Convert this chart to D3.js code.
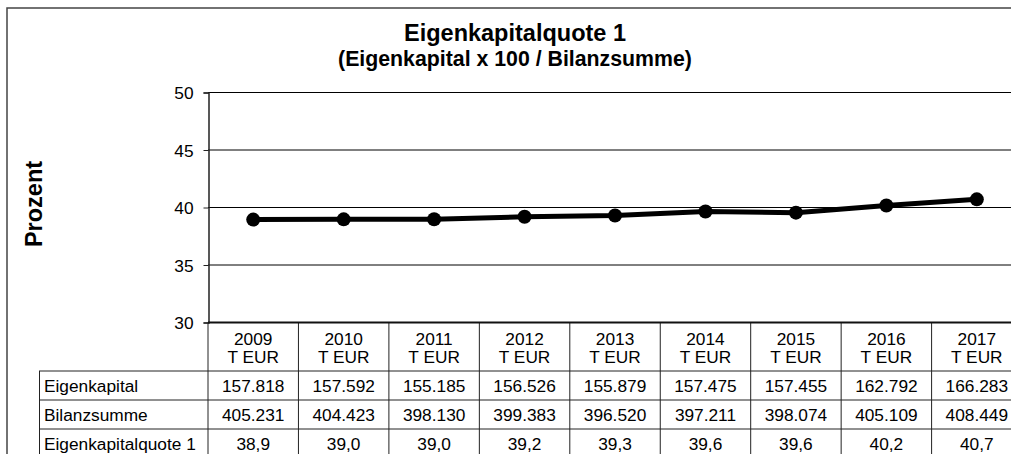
<!DOCTYPE html>
<html>
<head>
<meta charset="utf-8">
<script src="https://cdn.jsdelivr.net/npm/d3@7"></script>
<style>
  body { margin: 0; background: #fff; }
  text { font-family: "Liberation Sans", Arial, sans-serif; fill: #000; }
</style>
</head>
<body>
<div class="canva"></div>
<script>
// data
const years = ["2009", "2010", "2011", "2012", "2013", "2014", "2015", "2016", "2017"];
const eigenkapital = ["157.818", "157.592", "155.185", "156.526", "155.879", "157.475", "157.455", "162.792", "166.283"];
const bilanzsumme = ["405.231", "404.423", "398.130", "399.383", "396.520", "397.211", "398.074", "405.109", "408.449"];
const quoteLabels = ["38,9", "39,0", "39,0", "39,2", "39,3", "39,6", "39,6", "40,2", "40,7"];
const quote = [38.95, 38.97, 38.98, 39.19, 39.31, 39.65, 39.55, 40.18, 40.71];
const yTicks = [30, 35, 40, 45, 50];
const rowNames = ["Eigenkapital", "Bilanzsumme", "Eigenkapitalquote 1"];

const W = 1011, H = 454;

const svg = d3.select(".canva").append("svg")
    .attr("width", W)
    .attr("height", H);

// outer frame (runs off the right/bottom like the original)
svg.append("rect")
    .attr("x", 7).attr("y", 8)
    .attr("width", W + 20).attr("height", H + 20)
    .attr("fill", "none")
    .attr("stroke", "#444")
    .attr("stroke-width", 1.5);

const left = 208, colW = 90.45;

const x = d3.scaleBand()
    .domain(years)
    .range([left, left + years.length * colW])
    .padding(0);

const y = d3.scaleLinear()
    .domain([30, 50])
    .range([322.5, 92.5]);

// titles
svg.append("text")
    .attr("x", 515).attr("y", 41)
    .attr("text-anchor", "middle")
    .attr("font-size", 23.5)
    .attr("font-weight", "bold")
    .text("Eigenkapitalquote 1");

svg.append("text")
    .attr("x", 515).attr("y", 66)
    .attr("text-anchor", "middle")
    .attr("font-size", 21.3)
    .attr("font-weight", "bold")
    .text("(Eigenkapital x 100 / Bilanzsumme)");

svg.append("text")
    .attr("transform", "translate(42,204) rotate(-90)")
    .attr("text-anchor", "middle")
    .attr("font-size", 23.5)
    .attr("font-weight", "bold")
    .text("Prozent");

// gridlines
svg.append("g")
    .selectAll("line")
    .data(yTicks.filter(t => t > 30))
    .enter().append("line")
    .attr("x1", left).attr("x2", W + 20)
    .attr("y1", d => y(d)).attr("y2", d => y(d))
    .attr("stroke", "#000")
    .attr("stroke-width", 1);

// y axis
const yAxis = d3.axisLeft(y)
    .tickValues(yTicks)
    .tickSize(5)
    .tickPadding(10);

const gy = svg.append("g")
    .attr("transform", `translate(${left + 0.5},0)`)
    .call(yAxis);

gy.select(".domain").attr("stroke", "#222").attr("stroke-width", 1.5);
gy.selectAll(".tick line").attr("stroke", "#222");
gy.selectAll(".tick text")
    .attr("font-size", 17.3)
    .attr("font-family", "Liberation Sans, Arial, sans-serif")
    .attr("dy", "0.36em");

// table
const rowTop = 322.5, headH = 48.5, rowH = 29;
const tbl = svg.append("g");

// vertical lines
tbl.selectAll("line.v")
    .data(years.concat(["end"]))
    .enter().append("line")
    .attr("x1", (d, i) => i < years.length ? x(d) : x.range()[1])
    .attr("x2", (d, i) => i < years.length ? x(d) : x.range()[1])
    .attr("y1", rowTop)
    .attr("y2", H + 10)
    .attr("stroke", "#222")
    .attr("stroke-width", 1);

tbl.append("line")
    .attr("x1", 39.5).attr("x2", 39.5)
    .attr("y1", rowTop + headH).attr("y2", H + 10)
    .attr("stroke", "#222");

// horizontal lines
tbl.selectAll("line.h")
    .data(rowNames)
    .enter().append("line")
    .attr("x1", 39).attr("x2", W + 20)
    .attr("y1", (d, i) => rowTop + headH + i * rowH)
    .attr("y2", (d, i) => rowTop + headH + i * rowH)
    .attr("stroke", "#222");

// top of table = bottom of plot
tbl.append("line")
    .attr("x1", left).attr("x2", W + 20)
    .attr("y1", rowTop).attr("y2", rowTop)
    .attr("stroke", "#111")
    .attr("stroke-width", 2);

// header cells
const head = tbl.selectAll("g.head")
    .data(years)
    .enter().append("g")
    .attr("transform", d => `translate(${x(d) + x.bandwidth() / 2},0)`);

head.append("text")
    .attr("y", 345)
    .attr("text-anchor", "middle")
    .attr("font-size", 17.3)
    .text(d => d);

head.append("text")
    .attr("y", 363)
    .attr("text-anchor", "middle")
    .attr("font-size", 17.3)
    .text("T EUR");

// data rows
const rows = [eigenkapital, bilanzsumme, quoteLabels];

rows.forEach((vals, r) => {
    const baseY = rowTop + headH + r * rowH + 20.5;

    tbl.append("text")
        .attr("x", 44).attr("y", baseY)
        .attr("font-size", 17.3)
        .text(rowNames[r]);

    tbl.selectAll(null)
        .data(vals)
        .enter().append("text")
        .attr("x", (d, i) => x(years[i]) + x.bandwidth() / 2)
        .attr("y", baseY)
        .attr("text-anchor", "middle")
        .attr("font-size", 17.3)
        .text(d => d);
});

// line + markers
const line = d3.line()
    .x((d, i) => x(years[i]) + x.bandwidth() / 2)
    .y(d => y(d));

svg.append("path")
    .datum(quote)
    .attr("d", line)
    .attr("fill", "none")
    .attr("stroke", "#000")
    .attr("stroke-width", 5);

svg.selectAll("circle")
    .data(quote)
    .enter().append("circle")
    .attr("cx", (d, i) => x(years[i]) + x.bandwidth() / 2)
    .attr("cy", d => y(d))
    .attr("r", 7)
    .attr("fill", "#000");
</script>
</body>
</html>
